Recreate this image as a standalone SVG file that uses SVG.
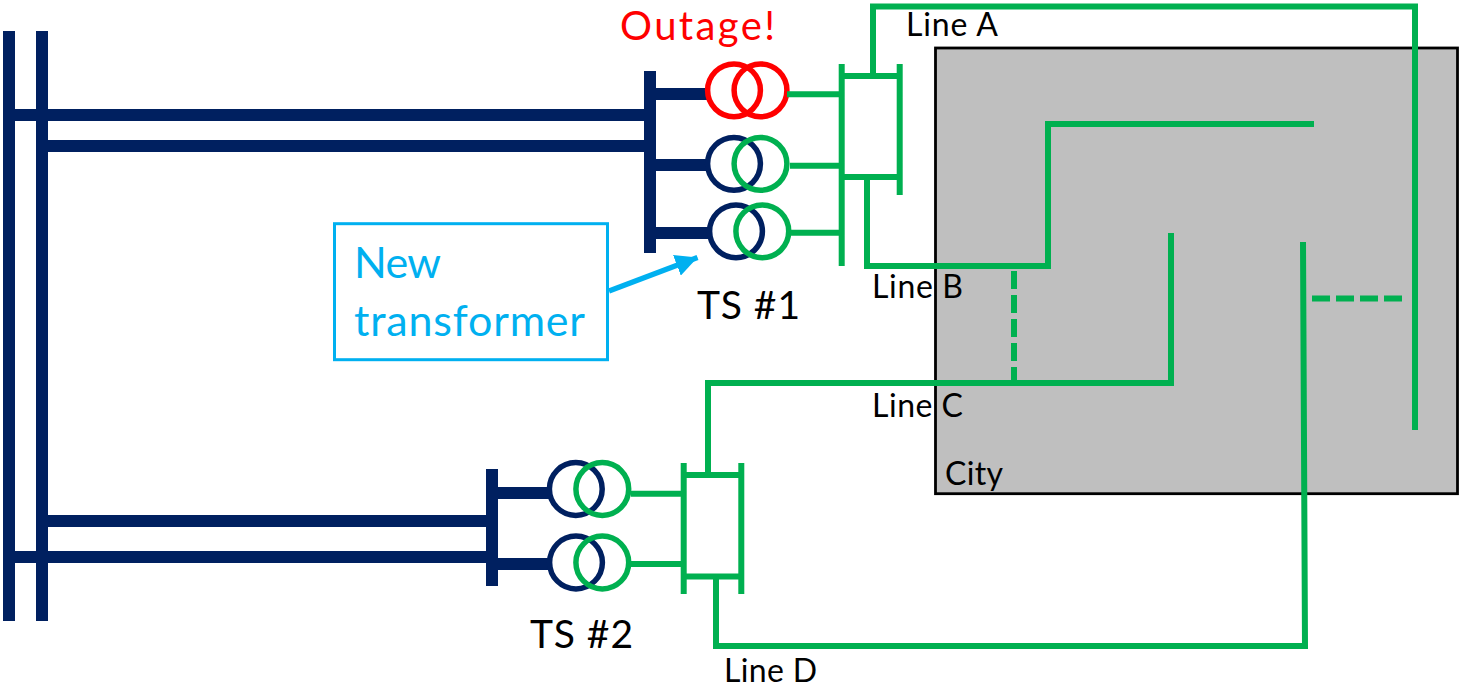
<svg xmlns="http://www.w3.org/2000/svg" width="1460" height="689" viewBox="0 0 1460 689">
<style>
text{font-family:Lato,"Liberation Sans",sans-serif;fill:#000}
.bus{fill:none;stroke:#002060;stroke-width:12}
.g{fill:none;stroke:#00b050;stroke-width:6}
.d{fill:none;stroke:#00b050;stroke-width:6;stroke-dasharray:18 6}
.hv{fill:none;stroke:#002060;stroke-width:5.5}
.lv{fill:none;stroke:#00b050;stroke-width:5.5}
.r{fill:none;stroke:#f00;stroke-width:5.5}
.lbl{font-size:32px}
.ts{font-size:39px}
.big{font-size:43px}
</style>
<defs>
<marker id="ah" markerUnits="userSpaceOnUse" markerWidth="24" markerHeight="22" refX="22" refY="11" orient="auto"><path d="M0 0L22 11L0 22z" fill="#00b0f0"/></marker>
</defs>
<rect id="city" x="935.500" y="48" width="522" height="445.700" fill="#bfbfbf" stroke="#000" stroke-width="2.800"/>
<g id="grid-buses">
<path class="bus" d="M9 31V621M42 31V621M9 115H650M42 146H650M42 521H492M9 557H492"/>
</g>
<g id="connectors">
<path class="g" d="M873 76V6.500H1415V430"/>
<path class="g" d="M867 177V266H1048V124H1314"/>
<path class="g" d="M708 475V383H1171V233"/>
<path class="g" d="M716 576V646H1305L1303 242"/>
<path class="d" d="M1014 271V383"/>
<path class="d" d="M1312 298.500H1402"/>
<path fill="none" stroke="#00b0f0" stroke-width="5.500" marker-end="url(#ah)" d="M609 291L697.500 257.500"/>
</g>
<g id="ts1">
<path class="bus" d="M650 71V253M650 94H710M650 165H710M650 233H711"/>
<circle class="r" cx="734" cy="90.300" r="26.400"/>
<circle class="r" cx="760.500" cy="90.300" r="26.400"/>
<circle class="hv" cx="734" cy="163.800" r="26.400"/>
<circle class="lv" cx="760.500" cy="163.800" r="26.400"/>
<circle class="hv" cx="736" cy="231.300" r="26.400"/>
<circle class="lv" cx="762.300" cy="231.300" r="26.400"/>
</g>
<g id="ts1-switchyard">
<path class="g" d="M787 94.300H842M790 165.700H842M791 232.700H842M841.700 64V266M899.700 64V195M841.700 76H899.700M841.700 177H899.700"/>
</g>
<g id="ts2">
<path class="bus" d="M492 469V586M492 493H551M492 564H551"/>
<circle class="hv" cx="575.800" cy="489" r="26.400"/>
<circle class="lv" cx="602.300" cy="489" r="26.400"/>
<circle class="hv" cx="576" cy="562.500" r="26.400"/>
<circle class="lv" cx="602.300" cy="562.500" r="26.400"/>
</g>
<g id="ts2-switchyard">
<path class="g" d="M631 493.700H684M631 564H684M683.700 463V594M741.300 463V594M683.700 475H741.300M683.700 576.500H741.300"/>
</g>
<g id="callout">
<rect x="334.500" y="223.700" width="273" height="136" fill="#fff" stroke="#00b0f0" stroke-width="3"/>
<text class="big" x="354" y="278" textLength="87" style="fill:#00b0f0">New</text>
<text class="big" x="354" y="336" textLength="231" style="fill:#00b0f0">transformer</text>
</g>
<g id="labels">
<text x="620" y="39.500" font-size="40" textLength="155" style="fill:#f00">Outage!</text>
<text class="ts" x="697" y="319" textLength="103">TS #1</text>
<text class="ts" x="530" y="648" textLength="103">TS #2</text>
<text class="lbl" x="906" y="36" textLength="92">Line A</text>
<text class="lbl" x="872" y="298" textLength="91">Line B</text>
<text class="lbl" x="872" y="417" textLength="91">Line C</text>
<text class="lbl" x="945" y="485" textLength="58">City</text>
<text class="lbl" x="724" y="682" textLength="93">Line D</text>
</g>
</svg>
